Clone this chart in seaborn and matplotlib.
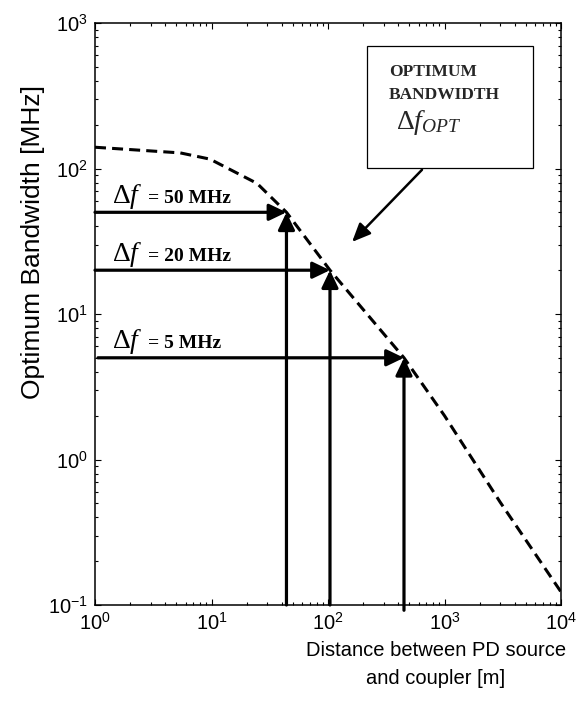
import matplotlib
matplotlib.use("Agg")
import matplotlib.pyplot as plt
from matplotlib.patches import Rectangle
import seaborn as sns

# Optimum bandwidth versus source-to-coupler distance (log-log)
distance_m = [1, 5.4, 9.7, 24.6, 44, 104, 449, 1000, 3000, 10000]
optimum_bw_mhz = [140, 128, 116, 79, 50, 20, 5, 2.0, 0.51, 0.123]

# Selected measurement bandwidths and the distance where each is optimum
bw_levels_mhz = [50, 20, 5]
bw_distance_m = [44, 104, 449]
bw_labels = ["= 50 MHz", "= 20 MHz", "= 5 MHz"]

sns.set_style("ticks")
plt.rcParams["font.family"] = ["Liberation Sans", "DejaVu Sans"]
plt.rcParams["mathtext.fontset"] = "custom"
plt.rcParams["mathtext.rm"] = "Liberation Serif"
plt.rcParams["mathtext.it"] = "Liberation Serif:italic"
plt.rcParams["mathtext.bf"] = "Liberation Serif:bold"
plt.rcParams["axes.unicode_minus"] = False

fig = plt.figure(figsize=(5.76, 7.19), dpi=100)
ax = fig.add_axes([95 / 576, 1 - 605 / 719, 466 / 576, 582 / 719])

sns.lineplot(x=distance_m, y=optimum_bw_mhz, ax=ax, color="black", lw=2.2,
             linestyle=(0, (3.6, 2.0)), sort=False, estimator=None)

ax.set_xscale("log")
ax.set_yscale("log")
ax.set_xlim(1, 1e4)
ax.set_ylim(0.1, 1e3)

for spine in ax.spines.values():
    spine.set_visible(True)
    spine.set_linewidth(1.1)
    spine.set_color("black")

ax.tick_params(which="both", direction="in", top=True, right=True,
               colors="black", labelsize=14.5, width=0.8)
ax.tick_params(which="major", length=4.5, pad=5)
ax.tick_params(which="minor", length=2.5)

head = "-|>,head_length=0.75,head_width=0.36"

# Horizontal and vertical arrows pointing at each optimum
for bw, dist, lab in zip(bw_levels_mhz, bw_distance_m, bw_labels):
    x0 = 1.06 if bw == 5 else 1.0
    ax.annotate("", xy=(dist, bw), xytext=(x0, bw),
                arrowprops=dict(arrowstyle=head, lw=2.3, color="black",
                                shrinkA=0, shrinkB=0, mutation_scale=14))
    ax.annotate("", xy=(dist, bw), xytext=(dist, 0.1 if bw != 5 else 0.092),
                arrowprops=dict(arrowstyle=head, lw=2.3, color="black",
                                shrinkA=0, shrinkB=0, mutation_scale=14),
                annotation_clip=False)
    ax.text(1.4, bw * 1.16, r"$\Delta f$", fontsize=20, ha="left",
            va="baseline", color="black")
    ax.text(2.85, bw * 1.16, lab, fontsize=14, fontweight="bold",
            family="Liberation Serif", ha="left", va="baseline", color="black")

# Callout box naming the dashed curve
box = Rectangle((367 / 576, 1 - 168 / 719), (533 - 367) / 576, (168 - 46) / 719,
                transform=fig.transFigure, facecolor="white", edgecolor="black",
                lw=0.9, zorder=5)
fig.patches.append(box)
fig.text(389 / 576, 1 - 76 / 719, "OPTIMUM", fontsize=12.5, fontweight="bold",
         family="Liberation Serif", va="baseline", zorder=6)
fig.text(389 / 576, 1 - 99 / 719, "BANDWIDTH", fontsize=12.5, fontweight="bold",
         family="Liberation Serif", va="baseline", zorder=6)
fig.text(396 / 576, 1 - 129 / 719, r"$\Delta f_{OPT}$", fontsize=20,
         va="baseline", zorder=6)

ax.annotate("", xy=(161, 31.3), xytext=(641, 98),
            arrowprops=dict(arrowstyle="-|>,head_length=0.8,head_width=0.35",
                            lw=1.8, color="black", shrinkA=0, shrinkB=0,
                            mutation_scale=14))

ax.set_xlabel("Distance between PD source\nand coupler [m]", fontsize=14.5,
              linespacing=1.65, color="black")
ax.xaxis.set_label_coords((436 - 95) / 466, -0.061)
ax.xaxis.label.set_va("top")
ax.set_ylabel("Optimum Bandwidth [MHz]", fontsize=19, color="black")
ax.yaxis.set_label_coords(-0.107, (605 - 242) / 582)

fig.savefig("out.png", dpi=100)
